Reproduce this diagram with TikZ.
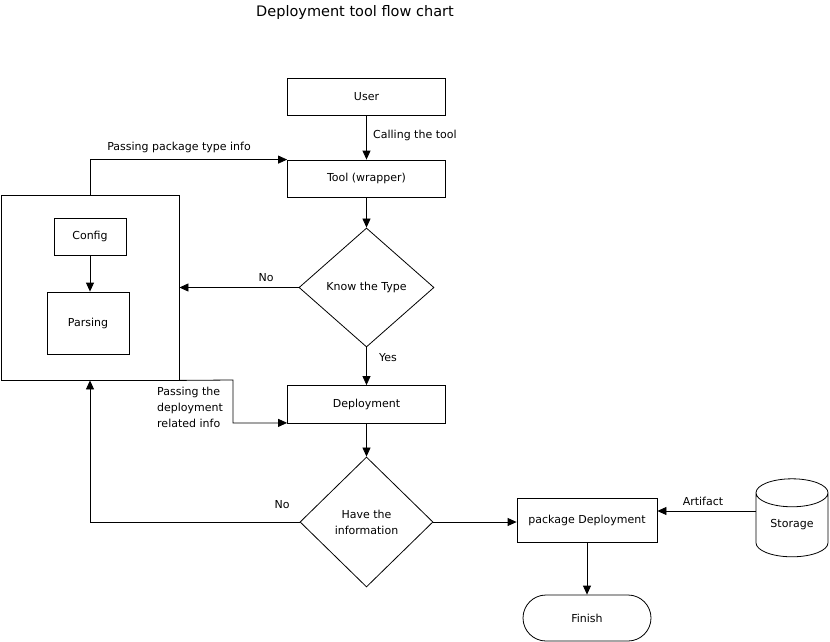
\documentclass[tikz,border=0pt]{standalone}
\usepackage{fontspec}
\setmainfont{DejaVu Sans}
\usetikzlibrary{arrows.meta,shapes.geometric,shapes.misc}
\begin{document}
\begin{tikzpicture}[x=1pt,y=-1pt,
  every node/.style={font=\fontsize{11}{16}\selectfont, inner sep=0pt},
  box/.style={draw, line width=0.8pt, rectangle},
  decision/.style={draw, line width=0.8pt, diamond, align=center},
  terminal/.style={draw, line width=0.8pt, rounded rectangle},
  store/.style={draw, line width=0.8pt, cylinder, shape border rotate=90, aspect=0.65},
  arr/.style={line width=0.8pt, -{Triangle[length=9pt,width=8pt]}},
  lbl/.style={align=left}]
\useasboundingbox (0,0) rectangle (830,642);

% title
\node[font=\fontsize{14.5}{18}\selectfont] (title) at (355,13) {Deployment tool flow chart};

% main column
\node[box, minimum width=158pt, minimum height=37pt] (user) at (366.5,96.5) {User};
\node[box, minimum width=158pt, minimum height=37pt] (tool) at (366.5,178.5) {Tool (wrapper)};
\node[decision, minimum width=135pt, minimum height=119pt] (know) at (366.5,287.5) {Know the Type};
\node[box, minimum width=158pt, minimum height=38pt] (deploy) at (366.5,404.5) {Deployment};
\node[decision, minimum width=133pt, minimum height=130pt] (have) at (366.5,522) {Have the\\information};

% configuration block
\node[box, minimum width=178pt, minimum height=185pt] (outer) at (90,287.5) {};
\node[box, minimum width=72pt, minimum height=37pt] (config) at (90,236.5) {Config};
\node[box, minimum width=82pt, minimum height=62pt] (parsing) at (88,323) {Parsing};

% deployment and storage
\node[box, minimum width=140pt, minimum height=44pt] (pkg) at (587,520) {package Deployment};
\node[store, minimum width=72pt, minimum height=78pt] (storage) at (792,525) {Storage};
\node[terminal, minimum width=128pt, minimum height=46pt] (finish) at (587,618) {Finish};

% connectors
\draw[arr] (user) -- (tool);
\draw[arr] (tool) -- (know);
\draw[arr] (know.south) -- (deploy.north);
\draw[arr] (deploy) -- (have);
\draw[arr] (config) -- (config |- parsing.north);
\draw[arr] (know.west) -- (know.west -| outer.east);
\draw[arr] (outer.north) |- (tool.north west);
\coordinate (bend) at (233,380);
\draw[arr] (outer.south east) -- (bend) |- ([yshift=1pt]deploy.south west);
\draw[arr] (have.west) -| (outer.south);
\draw[arr] (have.east) -- (have.east -| pkg.west);
\draw[arr] ([yshift=14pt]storage.west) -- ([yshift=14pt]storage.west -| pkg.east);
\draw[arr] (pkg) -- (finish);

% connector labels
\node[anchor=west] (lcall) at (373,135) {Calling the tool};
\node (lpass) at (179,147) {Passing package type info};
\node (lno1) at (266,278) {No};
\node (lyes) at (388,358) {Yes};
\node[lbl, anchor=west] (lrel) at (157,407) {Passing the\\deployment\\related info};
\node (lno2) at (282,505) {No};
\node (lart) at (703,501) {Artifact};
\end{tikzpicture}
\end{document}
